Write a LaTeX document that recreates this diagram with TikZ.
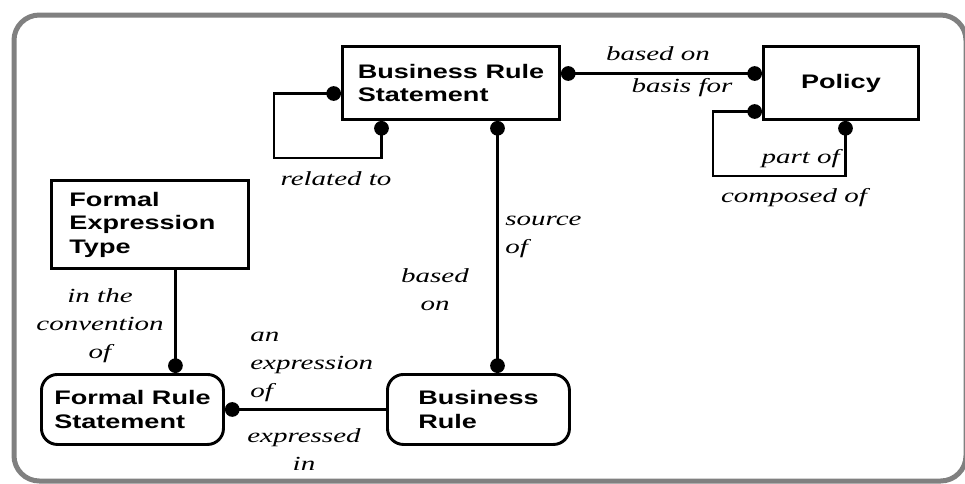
\documentclass[tikz,border=0pt]{standalone}
\usepackage{fontspec}
\newfontfamily\boxfont[FakeStretch=1.38]{Liberation Sans}
\newfontfamily\rolefont[FakeStretch=1.45]{Liberation Serif}
\usetikzlibrary{arrows.meta}
\definecolor{framegray}{RGB}{128,128,128}
\tikzset{
	entity/.style={draw, line width=2.2pt, anchor=north west, inner sep=0pt, align=left,
		font=\boxfont\bfseries\fontsize{14.7pt}{17.6pt}\selectfont},
	role/.style={inner sep=0pt, align=center,
		font=\rolefont\itshape\fontsize{15pt}{21pt}\selectfont},
	link/.style={line width=2.2pt, {Circle[length=11pt]}-{Circle[length=11pt]}},
	dotend/.style={line width=2.2pt, -{Circle[length=11pt]}}
}
\begin{document}
\begin{tikzpicture}[x=0.75pt, y=-0.75pt]
	\useasboundingbox (0,0) rectangle (965,483);
	\clip (0,0) rectangle (965,483);
	\draw[draw=framegray, line width=3.75pt, rounded corners=19pt] (14,15) rectangle (966,481);
	% entities
	\node[entity, minimum width=162.75pt, minimum height=54.75pt] (BRS) at (341,45) {Business Rule\\Statement};
	\node[entity, minimum width=116.25pt, minimum height=54.75pt] (Policy) at (762,45) {Policy};
	\node[entity, minimum width=147.75pt, minimum height=66pt, text width=120.75pt, inner xsep=13.5pt] (FET) at (50,179) {Formal\\Expression\\Type};
	\node[entity, rounded corners=12pt, minimum width=136.5pt, minimum height=52.5pt] (FRS) at (40,373) {Formal Rule\\Statement};
	\node[entity, rounded corners=12pt, minimum width=136.5pt, minimum height=52.5pt] (BR) at (386,373) {Business\\Rule};
	% relations
	\draw[link] ([yshift=7.1pt]BRS.east) -- ([yshift=7.1pt]Policy.west);
	\coordinate (brsloop) at (274,158);
	\draw[link] ([yshift=-7.9pt]BRS.west) -| (brsloop) -| ([xshift=-52.1pt]BRS.south);
	\coordinate (polloop) at (713,176);
	\draw[link] ([yshift=-21.4pt]Policy.west) -| (polloop) -| ([xshift=3.4pt]Policy.south);
	\draw[link] ([xshift=34.9pt]BRS.south) -- ([xshift=34.9pt]BRS.south |- BR.north);
	\draw[dotend] ([xshift=19.1pt]FET.south) -- ([xshift=19.1pt]FET.south |- FRS.north);
	\draw[dotend] (BR.west) -- (FRS.east);
	% role names
	\node[role, anchor=base] (basedon) at (658,60) {based on};
	\node[role, anchor=base] (basisfor) at (682,92) {basis for};
	\node[role, anchor=base] (relatedto) at (336,185) {related to};
	\node[role, anchor=base east] (partof) at (840,163) {part of};
	\node[role, anchor=base] (composedof) at (794,202) {composed of};
	\node[role, anchor=base west, align=left] (sourceof) at (505,253) {source\\of};
	\node[role, anchor=base] (basedonbr) at (435,310) {based\\on};
	\node[role, anchor=base] (convention) at (100,358) {in the\\convention\\of};
	\node[role, anchor=base west, align=left] (expressionof) at (250,397) {an\\expression\\of};
	\node[role, anchor=base] (expressedin) at (304,470) {expressed\\in};
\end{tikzpicture}
\end{document}
